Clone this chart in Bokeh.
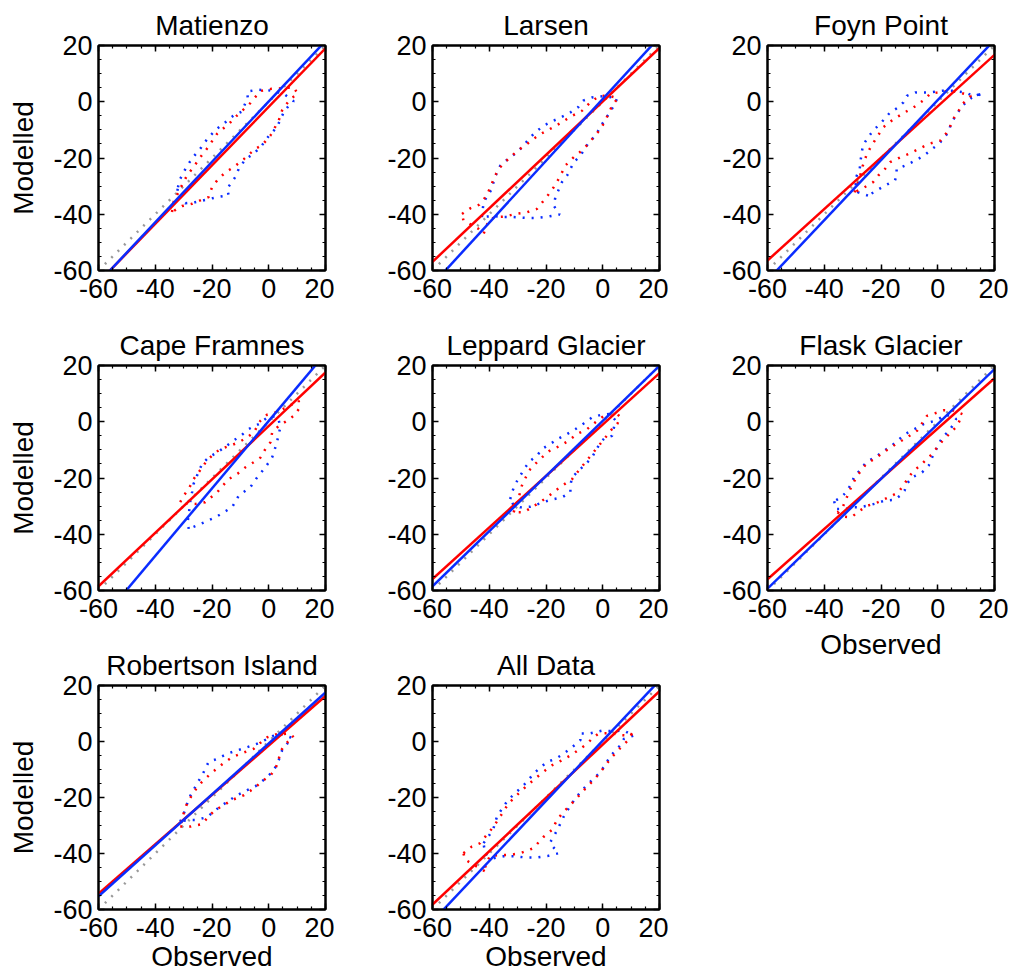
from bokeh.plotting import figure
from bokeh.models import Range1d, SingleIntervalTicker, LinearAxis, CustomJSTickFormatter
from bokeh.layouts import row, column
from bokeh.embed import file_html
from bokeh.resources import INLINE

FONT = "Liberation Sans"

TITLES = ["Matienzo", "Larsen", "Foyn Point", "Cape Framnes", "Leppard Glacier",
          "Flask Glacier", "Robertson Island", "All Data"]

X_LIMITS = [-60, 20]
TICK_STEP = 20

# regression lines (slope, intercept)
RED_SLOPE = [1.04, 0.95, 0.914, 0.95, 0.915, 0.893, 0.883, 0.952]
RED_INTERCEPT = [-1.8, 0.1, -1.6, -1.5, -1.0, -2.4, -1.4, -1.1]
BLUE_SLOPE = [1.074, 1.10, 1.068, 1.20, 0.98, 0.976, 0.91, 1.075]
BLUE_INTERCEPT = [0.1, 1.0, 0.6, 0.3, 0.3, -0.8, -0.7, 0.3]

# density contours (observed, modelled)
MATIENZO_BLUE = [(-32.0, -30.4), (-31.2, -27.4), (-28.8, -22.8), (-26.5, -19.5), (-24.0, -16.5),
                 (-21.5, -13.0), (-18.5, -9.8), (-15.5, -7.5), (-12.5, -5.0), (-9.5, -3.5),
                 (-7.4, 1.5), (-7.6, 3.6), (-4.0, 4.3), (0.5, 4.0), (5.0, 3.0), (8.8, 0.2),
                 (7.1, -1.3), (5.3, -3.7), (2.9, -9.0), (0.0, -12.2), (-2.4, -15.5), (-5.3, -18.5),
                 (-8.2, -20.4), (-10.6, -23.9), (-11.8, -26.8), (-14.7, -31.0), (-14.1, -33.3),
                 (-18.2, -33.9), (-21.8, -34.8), (-25.9, -35.7), (-29.4, -36.1), (-32.4, -33.0)]
MATIENZO_RED = [(-34.1, -39.2), (-33.5, -35.5), (-31.5, -31.5), (-28.8, -26.2), (-26.5, -23.2),
                (-24.1, -19.7), (-21.8, -16.7), (-18.2, -11.4), (-13.5, -7.3), (-11.2, -4.9),
                (-6.5, -0.5), (-3.0, 3.8), (1.0, 4.6), (5.0, 4.8), (8.8, 5.2), (10.2, 2.8),
                (7.6, 1.0), (5.9, -1.3), (4.7, -3.1), (3.5, -6.7), (0.6, -12.0), (-2.4, -15.5),
                (-4.7, -16.7), (-8.8, -20.4), (-12.4, -23.3), (-15.3, -25.1), (-18.2, -28.0),
                (-20.0, -30.4), (-21.2, -33.9), (-23.5, -34.8), (-27.1, -36.3), (-30.6, -37.1)]

LARSEN_BLUE = [(-42.6, -41.0), (-42.0, -35.7), (-39.1, -31.0), (-38.5, -28.6), (-37.3, -25.1),
               (-36.1, -22.7), (-33.0, -20.0), (-30.2, -18.0), (-27.9, -15.6), (-26.1, -13.3),
               (-23.8, -10.9), (-20.8, -8.5), (-17.9, -7.0), (-14.9, -5.6), (-11.4, -3.8),
               (-8.5, -1.8), (-6.9, 0.4), (-3.8, 1.5), (0.5, 2.0), (5.1, 1.2), (3.9, -1.4),
               (2.1, -4.4), (-0.2, -7.9), (-2.6, -12.1), (-4.9, -14.4), (-7.9, -19.2),
               (-10.2, -21.5), (-12.6, -26.3), (-14.4, -28.6), (-16.7, -34.0), (-17.3, -36.9),
               (-15.2, -40.1), (-19.1, -40.8), (-23.2, -41.3), (-27.3, -41.3), (-31.4, -41.0),
               (-34.9, -41.0), (-38.5, -40.6)]
LARSEN_RED = [(-49.6, -39.9), (-46.7, -37.9), (-43.5, -36.6), (-41.0, -33.5), (-39.6, -30.4),
              (-38.2, -26.9), (-36.7, -23.9), (-34.5, -21.5), (-32.0, -19.2), (-29.5, -17.0),
              (-26.7, -15.0), (-24.5, -13.3), (-22.0, -11.5), (-17.9, -9.3), (-14.4, -7.3),
              (-11.4, -5.3), (-7.3, -3.2), (-4.4, -0.2), (-1.4, 1.9), (0.4, 2.1), (2.5, 2.0),
              (5.3, 1.3), (3.3, -1.4), (0.9, -6.7), (-0.8, -9.7), (-3.5, -13.0), (-6.7, -16.8),
              (-10.0, -19.5), (-13.2, -22.7), (-15.0, -26.5), (-17.3, -30.4), (-19.5, -33.5),
              (-21.5, -36.0), (-23.2, -38.1), (-26.7, -39.3), (-30.8, -39.9), (-34.4, -40.8),
              (-38.0, -41.0), (-40.2, -42.2), (-42.0, -47.0), (-44.0, -45.0), (-49.1, -42.2)]

FOYN_BLUE = [(-24.6, -33.4), (-28.1, -32.2), (-29.3, -28.0), (-27.5, -23.9), (-27.2, -20.9),
             (-26.4, -15.6), (-24.6, -12.7), (-22.8, -10.3), (-19.8, -7.3), (-16.8, -3.8),
             (-13.9, -2.0), (-12.1, -0.2), (-10.9, 2.1), (-7.9, 3.3), (-3.2, 3.3), (1.6, 3.9),
             (5.2, 3.9), (9.9, 3.3), (12.5, 2.0), (15.9, 3.0), (12.0, 1.5), (8.7, -1.4),
             (6.3, -5.0), (4.6, -7.9), (4.0, -10.3), (2.8, -12.1), (0.4, -15.0), (-2.0, -16.8),
             (-4.9, -19.2), (-7.9, -20.9), (-11.5, -22.7), (-14.5, -23.9), (-14.5, -26.3),
             (-15.1, -28.0), (-18.6, -29.8), (-21.6, -31.6)]
FOYN_RED = [(-29.3, -32.2), (-27.5, -26.9), (-26.5, -23.0), (-25.2, -19.2), (-24.0, -16.8),
            (-22.2, -13.8), (-19.2, -9.1), (-16.2, -6.7), (-12.7, -4.4), (-8.5, -2.0),
            (-4.9, 0.6), (-2.5, 3.0), (-0.2, 3.3), (4.0, 3.9), (8.0, 3.2), (11.7, 2.1),
            (8.7, -0.8), (7.5, -3.0), (5.8, -5.6), (4.5, -8.5), (2.8, -11.5), (1.0, -13.8),
            (-3.2, -15.0), (-6.7, -16.8), (-10.3, -18.6), (-13.3, -19.8), (-16.8, -21.5),
            (-18.6, -23.9), (-21.0, -26.3), (-22.8, -28.6), (-25.8, -30.4)]

FRAMNES_BLUE = [(-28.2, -38.1), (-28.6, -35.7), (-28.2, -33.0), (-27.6, -28.0), (-27.0, -25.0),
                (-26.5, -22.1), (-25.3, -19.2), (-23.5, -15.0), (-21.2, -12.7), (-18.2, -10.9),
                (-15.3, -8.9), (-12.4, -6.7), (-9.4, -4.6), (-7.1, -2.6), (-3.5, -0.8),
                (-0.5, 1.5), (2.5, 2.0), (3.5, 0.6), (4.1, -2.0), (3.5, -4.4), (2.9, -7.3),
                (1.2, -12.7), (-1.2, -16.2), (-4.1, -19.8), (-6.5, -23.3), (-10.6, -26.3),
                (-12.9, -30.4), (-15.9, -32.2), (-18.8, -34.0), (-22.0, -35.4), (-25.3, -36.9)]
FRAMNES_RED = [(-31.2, -28.6), (-30.0, -26.3), (-28.2, -23.9), (-26.5, -20.4), (-24.0, -17.0),
               (-21.8, -13.8), (-19.4, -11.5), (-17.1, -9.7), (-13.5, -8.5), (-10.6, -7.3),
               (-7.6, -5.6), (-5.3, -3.8), (-2.9, 0.4), (-0.6, 2.5), (3.0, 3.5), (7.0, 5.5),
               (10.6, 7.5), (10.6, 4.5), (8.8, 2.1), (6.5, 0.4), (3.5, -1.5), (1.2, -3.8),
               (0.6, -7.3), (-1.2, -9.7), (-2.9, -12.7), (-5.5, -14.5), (-8.2, -16.2),
               (-11.0, -18.5), (-14.1, -20.4), (-16.0, -22.5), (-18.2, -25.1), (-22.4, -28.6),
               (-25.9, -29.2), (-28.5, -29.2)]

LEPPARD_BLUE = [(-32.6, -27.5), (-32.0, -25.1), (-30.8, -22.1), (-29.1, -19.2), (-27.3, -16.2),
                (-25.5, -13.8), (-23.2, -12.1), (-21.4, -9.7), (-18.5, -7.9), (-15.5, -5.9),
                (-12.6, -4.4), (-9.6, -2.6), (-6.7, -0.6), (-3.8, 1.5), (-0.5, 2.5), (2.5, 2.8),
                (4.5, 0.5), (3.3, -5.0), (0.5, -6.0), (-0.8, -7.3), (-2.3, -10.0), (-3.8, -12.7),
                (-6.0, -15.0), (-8.5, -17.4), (-10.8, -19.8), (-11.4, -22.5), (-11.4, -25.1),
                (-14.4, -26.9), (-18.5, -27.8), (-22.0, -29.0), (-25.5, -30.2), (-29.1, -30.4),
                (-31.5, -29.5)]
LEPPARD_RED = [(-31.4, -32.2), (-30.5, -29.5), (-29.6, -26.9), (-28.5, -22.7), (-27.0, -19.5),
               (-25.5, -16.8), (-23.2, -14.4), (-20.8, -12.1), (-18.5, -10.1), (-14.9, -8.5),
               (-12.0, -6.7), (-9.1, -4.4), (-5.5, -2.6), (-2.6, -0.2), (0.4, 2.1), (2.7, 2.7),
               (5.0, 3.0), (6.2, 1.5), (5.1, -0.8), (2.7, -3.2), (0.8, -5.8), (-1.4, -8.5),
               (-3.8, -11.5), (-6.1, -14.4), (-8.5, -17.4), (-10.8, -20.4), (-13.8, -22.4),
               (-16.7, -24.5), (-19.6, -26.9), (-22.3, -28.7), (-24.9, -30.4), (-27.9, -32.2)]

FLASK_BLUE = [(-36.5, -28.3), (-35.9, -31.0), (-32.3, -31.0), (-30.5, -30.4), (-27.5, -30.4),
              (-24.6, -29.8), (-21.6, -29.0), (-18.6, -28.0), (-15.3, -27.8), (-13.3, -26.3),
              (-11.7, -24.5), (-10.9, -22.1), (-9.1, -19.8), (-5.5, -18.0), (-3.2, -15.6),
              (-2.0, -12.7), (-0.8, -10.3), (0.4, -7.9), (1.6, -5.6), (4.0, -3.2), (5.2, -1.4),
              (6.5, 1.0), (3.0, 2.5), (-0.8, 0.4), (-4.9, -0.8), (-8.2, -2.6), (-11.5, -4.4),
              (-13.9, -6.5), (-16.2, -8.5), (-19.2, -10.5), (-22.2, -12.7), (-25.2, -14.4),
              (-27.5, -17.4), (-29.3, -19.2), (-30.5, -22.1), (-32.3, -25.1), (-34.1, -26.9)]
FLASK_RED = [(-35.3, -32.2), (-33.5, -33.7), (-30.5, -34.0), (-27.5, -31.6), (-24.6, -29.8),
             (-21.0, -28.6), (-17.4, -26.9), (-13.9, -25.1), (-12.0, -22.5), (-10.3, -19.8),
             (-8.5, -17.4), (-6.1, -15.6), (-4.4, -13.8), (-2.0, -11.5), (-0.2, -9.1),
             (2.2, -6.2), (4.6, -3.8), (6.9, -1.4), (8.7, 2.7), (5.5, 4.0), (2.2, 4.1),
             (-1.0, 3.0), (-3.8, 2.1), (-5.5, -0.5), (-7.3, -3.2), (-10.9, -5.6), (-13.5, -7.2),
             (-16.2, -8.9), (-19.0, -10.8), (-21.6, -12.7), (-25.2, -15.0), (-27.5, -18.0),
             (-29.3, -20.9), (-31.1, -24.5), (-32.3, -27.5), (-33.5, -30.4)]

ROBERTSON_BLUE = [(-31.2, -28.6), (-30.0, -26.0), (-29.1, -23.3), (-28.2, -20.4), (-26.5, -17.4),
                  (-25.3, -15.0), (-23.5, -12.1), (-21.2, -7.3), (-18.2, -6.2), (-14.7, -4.4),
                  (-11.2, -3.2), (-7.5, -2.0), (-4.1, -0.8), (-1.2, 0.6), (1.5, 2.0), (4.1, 2.7),
                  (7.6, 1.5), (8.2, 1.0), (6.5, -0.8), (4.7, -3.2), (3.5, -6.7), (1.8, -10.3),
                  (-1.2, -13.3), (-4.7, -16.0), (-7.6, -17.4), (-11.2, -19.2), (-15.9, -22.4),
                  (-18.8, -24.5), (-21.8, -27.1), (-25.9, -28.0), (-28.5, -28.0)]
ROBERTSON_RED = [(-31.2, -30.4), (-27.6, -30.4), (-23.5, -29.5), (-21.0, -26.5), (-18.8, -24.5),
                 (-16.5, -23.1), (-12.9, -20.9), (-8.8, -19.2), (-5.3, -16.8), (-1.8, -13.8),
                 (0.6, -12.1), (2.4, -9.7), (3.5, -6.2), (4.5, -3.0), (5.9, -0.8), (8.8, 1.5),
                 (7.5, 2.8), (5.3, 2.7), (2.4, 2.5), (-0.5, 1.5), (-3.0, -0.5), (-5.3, -2.6),
                 (-9.0, -4.0), (-12.9, -5.6), (-16.0, -7.8), (-18.8, -10.1), (-21.0, -12.0),
                 (-23.5, -14.4), (-25.3, -16.5), (-27.1, -19.2), (-28.8, -22.1), (-30.0, -25.7)]

ALL_BLUE = [(-42.0, -36.3), (-40.0, -33.5), (-38.5, -31.0), (-37.3, -26.9), (-35.5, -24.0),
            (-33.8, -21.5), (-31.5, -19.0), (-29.1, -16.8), (-26.7, -14.4), (-24.4, -11.5),
            (-22.0, -9.3), (-19.6, -7.3), (-16.7, -6.2), (-13.8, -4.4), (-10.8, -2.0),
            (-7.9, 0.4), (-7.9, 2.9), (-4.4, 2.9), (-0.2, 3.9), (3.9, 3.7), (7.4, 3.9),
            (10.9, 2.1), (7.4, 0.9), (6.2, -1.4), (3.9, -3.8), (2.1, -6.2), (0.4, -9.1),
            (-1.4, -11.5), (-4.5, -14.5), (-7.3, -17.4), (-9.8, -20.5), (-12.0, -23.9),
            (-13.8, -26.9), (-15.5, -30.5), (-17.3, -34.0), (-18.7, -36.3), (-15.5, -39.9),
            (-19.1, -40.8), (-23.2, -41.4), (-27.3, -41.4), (-31.0, -41.0), (-34.9, -41.0),
            (-38.5, -41.7), (-41.5, -40.0)]
ALL_RED = [(-49.1, -39.9), (-46.1, -37.5), (-43.2, -36.3), (-41.0, -33.5), (-38.5, -30.4),
           (-36.8, -27.8), (-35.0, -25.0), (-33.2, -22.1), (-30.8, -19.7), (-28.5, -17.4),
           (-25.8, -15.0), (-23.2, -12.7), (-20.5, -10.5), (-17.9, -8.5), (-14.6, -6.8),
           (-11.4, -5.0), (-8.5, -3.0), (-5.5, -0.8), (-3.8, 1.0), (-1.8, 2.6), (-0.2, 2.9),
           (3.0, 3.0), (6.5, 2.3), (9.8, 2.1), (10.9, 3.9), (9.0, 0.5), (7.0, -1.5),
           (4.8, -3.8), (2.7, -6.2), (1.0, -8.5), (-0.8, -10.9), (-3.2, -13.8), (-6.1, -16.8),
           (-8.8, -19.8), (-11.4, -22.7), (-13.8, -25.1), (-16.1, -28.0), (-17.9, -31.6),
           (-20.8, -34.0), (-22.6, -36.0), (-24.4, -38.1), (-29.1, -39.9), (-32.6, -40.5),
           (-36.0, -40.6), (-39.7, -40.8), (-41.4, -44.4), (-40.9, -46.7), (-43.0, -45.5),
           (-45.5, -44.0), (-48.5, -42.2)]

BLUE_CONTOURS = [MATIENZO_BLUE, LARSEN_BLUE, FOYN_BLUE, FRAMNES_BLUE, LEPPARD_BLUE,
                 FLASK_BLUE, ROBERTSON_BLUE, ALL_BLUE]
RED_CONTOURS = [MATIENZO_RED, LARSEN_RED, FOYN_RED, FRAMNES_RED, LEPPARD_RED,
                FLASK_RED, ROBERTSON_RED, ALL_RED]

RED = "#ff0000"
BLUE = "#0a2cff"
GREY = "#999999"

# (left border, right border) per column
COL_BORDERS = [(98, 9), (98, 9), (99, 14)]
FRAME_W = 227
FRAME_H = 225
TOP_B = 45
BOTTOM_B = 50
BOTTOM_B_LABEL = 64
BOTTOM_B_LABEL_MID = 74


def style_axis(ax, labels=True):
    ax.ticker = SingleIntervalTicker(interval=TICK_STEP, num_minor_ticks=4)
    ax.major_tick_in = 6
    ax.major_tick_out = 0
    ax.minor_tick_in = 3
    ax.minor_tick_out = 0
    ax.axis_line_width = 2
    ax.axis_line_color = "black"
    ax.major_tick_line_width = 1.5
    ax.minor_tick_line_width = 1.2
    ax.major_label_text_font = FONT
    ax.major_label_text_color = "black"
    ax.axis_label_text_font = FONT
    ax.axis_label_text_font_size = "28px"
    ax.axis_label_text_font_style = "normal"
    ax.axis_label_text_color = "black"
    if labels:
        ax.formatter = CustomJSTickFormatter(code="return tick.toFixed(0)")
        ax.major_label_text_font_size = "27px"
    else:
        ax.formatter = CustomJSTickFormatter(code="return ''")
        ax.major_label_text_font_size = "1px"
        ax.major_label_standoff = 0


def make_panel(i):
    r, c = divmod(i, 3)
    left, right = COL_BORDERS[c]
    has_xlabel = i in (5, 6, 7)
    if i == 5:
        bottom = BOTTOM_B_LABEL_MID
    elif has_xlabel:
        bottom = BOTTOM_B_LABEL
    else:
        bottom = BOTTOM_B
    p = figure(width=left + FRAME_W + right, height=TOP_B + FRAME_H + bottom,
               x_range=Range1d(*X_LIMITS), y_range=Range1d(*X_LIMITS),
               output_backend="svg", toolbar_location=None,
               min_border_left=left, min_border_right=right,
               min_border_top=TOP_B, min_border_bottom=bottom,
               title=TITLES[i])
    p.title.text_font = FONT
    p.title.text_font_size = "28px"
    p.title.text_font_style = "normal"
    p.title.text_color = "black"
    p.title.align = "center"
    p.title.standoff = 10
    p.xgrid.visible = False
    p.ygrid.visible = False
    p.outline_line_color = "black"
    p.outline_line_width = 2
    p.background_fill_color = "white"
    p.border_fill_color = "white"

    style_axis(p.xaxis[0])
    style_axis(p.yaxis[0])
    p.xaxis[0].major_label_standoff = 8
    p.yaxis[0].major_label_standoff = 6
    if c == 0:
        p.yaxis[0].axis_label = "Modelled"
        p.yaxis[0].axis_label_standoff = 11
    if has_xlabel:
        p.xaxis[0].axis_label = "Observed"
        p.xaxis[0].axis_label_standoff = 8 if i == 5 else 1

    top = LinearAxis()
    style_axis(top, labels=False)
    p.add_layout(top, "above")
    rt = LinearAxis()
    style_axis(rt, labels=False)
    p.add_layout(rt, "right")

    # 1:1 line
    p.line(X_LIMITS, X_LIMITS, line_color=GREY, line_width=2.5, line_dash="2 7")

    bx = [pt[0] for pt in BLUE_CONTOURS[i]] + [BLUE_CONTOURS[i][0][0]]
    by = [pt[1] for pt in BLUE_CONTOURS[i]] + [BLUE_CONTOURS[i][0][1]]
    rx = [pt[0] for pt in RED_CONTOURS[i]] + [RED_CONTOURS[i][0][0]]
    ry = [pt[1] for pt in RED_CONTOURS[i]] + [RED_CONTOURS[i][0][1]]
    p.line(bx, by, line_color=BLUE, line_width=2.5, line_dash="2 7")
    p.line(rx, ry, line_color=RED, line_width=2.5, line_dash="2 7")

    red_y = [RED_INTERCEPT[i] + RED_SLOPE[i] * x for x in X_LIMITS]
    blue_y = [BLUE_INTERCEPT[i] + BLUE_SLOPE[i] * x for x in X_LIMITS]
    p.line(X_LIMITS, red_y, line_color=RED, line_width=2.5)
    p.line(X_LIMITS, blue_y, line_color=BLUE, line_width=2.5)
    return p


panels = [make_panel(i) for i in range(len(TITLES))]
layout = row(column(panels[0], panels[3], panels[6]),
             column(panels[1], panels[4], panels[7]),
             column(panels[2], panels[5]))

open("out.html", "w").write(file_html(layout, INLINE))
